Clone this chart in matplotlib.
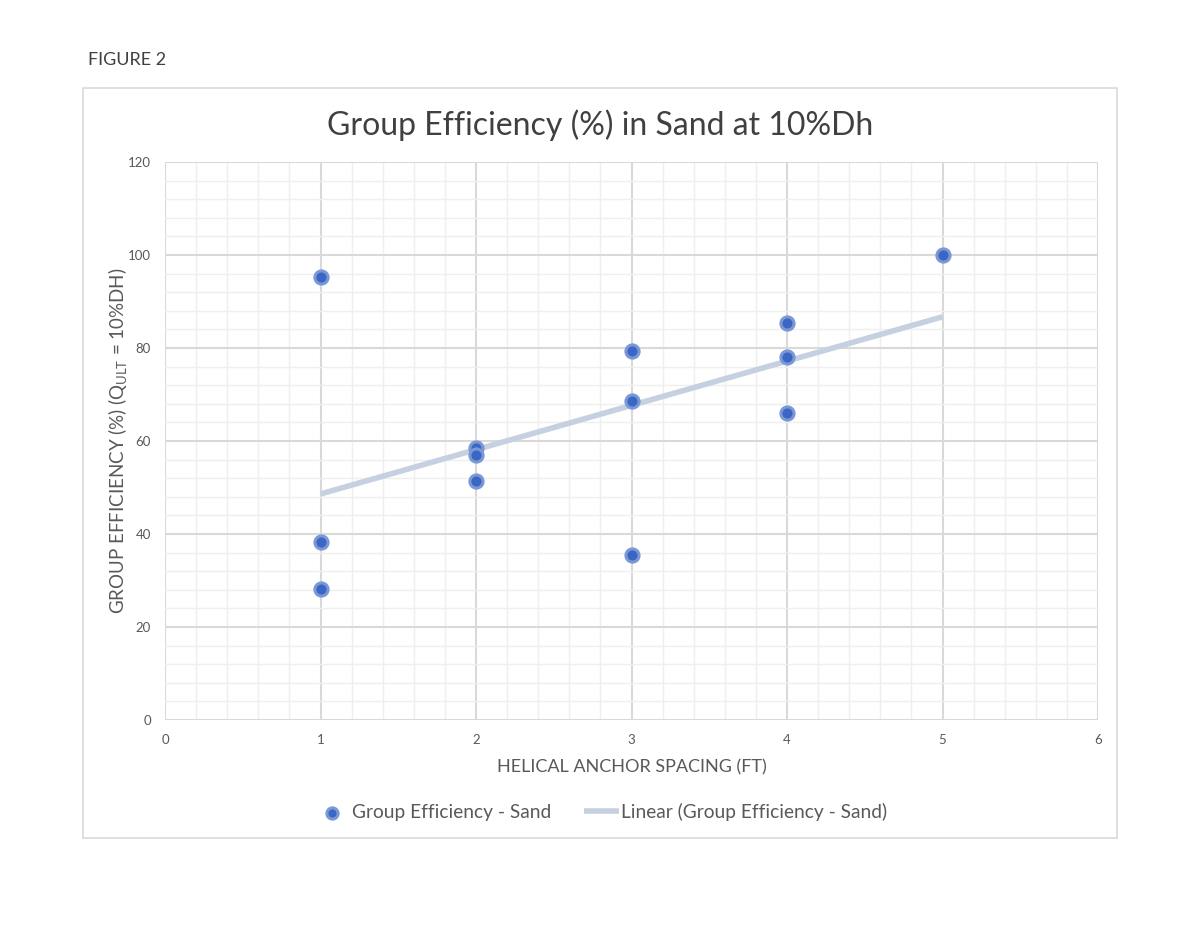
import numpy as np
import matplotlib
matplotlib.use("Agg")
import matplotlib.pyplot as plt
from matplotlib.patches import Rectangle
from matplotlib.ticker import MultipleLocator

spacing_ft = [1, 1, 1, 2, 2, 2, 3, 3, 3, 4, 4, 4, 5]
efficiency = [95.3, 38.2, 28.2, 58.5, 57.0, 51.5, 79.4, 68.6, 35.5, 85.3, 78.0, 66.0, 100.0]
x_ticks = [0, 1, 2, 3, 4, 5, 6]
y_ticks = [0, 20, 40, 60, 80, 100, 120]

plt.rcParams['font.family'] = ['Lato', 'DejaVu Sans']

fig = plt.figure(figsize=(12, 9.27), dpi=100)
W, H = 1200, 927

# chart border
fig.patches.append(Rectangle((83 / W, 1 - 838 / H), (1117 - 83) / W, (838 - 88) / H,
                             transform=fig.transFigure, fill=False, edgecolor='#d9d9d9', linewidth=1.2))
fig.text(88 / W, 1 - 60 / H, "FIGURE 2", fontsize=13, color='#404040', va='center', ha='left')
fig.text(600 / W, 1 - 125 / H, "Group Efficiency (%) in Sand at 10%Dh", fontsize=23,
         color='#404040', va='center', ha='center')

ax = fig.add_axes([165 / W, 1 - 720 / H, (1098 - 165) / W, (720 - 162) / H])
ax.set_xlim(0, 6)
ax.set_ylim(0, 120)
ax.set_xticks(x_ticks)
ax.set_yticks(y_ticks)
ax.xaxis.set_minor_locator(MultipleLocator(0.2))
ax.yaxis.set_minor_locator(MultipleLocator(4))
ax.grid(which='minor', color='#efefef', linewidth=1.0, zorder=0)
ax.grid(which='major', color='#d9d9d9', linewidth=1.5, zorder=0.5)
for s in ax.spines.values():
    s.set_visible(False)
ax.tick_params(which='both', length=0)
ax.tick_params(axis='both', labelsize=9.5, colors='#595959', pad=10)
ax.set_axisbelow(True)

# trendline
x = np.array(spacing_ft, dtype=float)
y = np.array(efficiency)
m, b = np.polyfit(x, y, 1)
xt = np.array([x.min(), x.max()])
ax.plot(xt, m * xt + b, color='#c5d0e0', linewidth=4, solid_capstyle='butt',
        label='Linear (Group Efficiency - Sand)', zorder=2)

ax.scatter(spacing_ft, efficiency, s=90, color='#3a66c4', edgecolors='#7b98d6', linewidths=2.2,
           zorder=3, label='Group Efficiency - Sand')

ax.set_xlabel("HELICAL ANCHOR SPACING (FT)", fontsize=13, color='#595959', labelpad=10)
ax.set_ylabel(r"GROUP EFFICIENCY (%) (Q$_{\mathregular{ULT}}$ = 10%DH)", fontsize=13.5, color='#595959', labelpad=-1)

handles, labels = ax.get_legend_handles_labels()
leg = fig.legend(handles[::-1], labels[::-1], loc='center', bbox_to_anchor=(601 / W, 1 - 812 / H),
                 ncol=2, frameon=False, fontsize=13.8, labelcolor='#595959', handlelength=1.8,
                 columnspacing=1.75, handletextpad=0.1, markerscale=0.85)

fig.savefig("out.png", dpi=100, facecolor='white')
